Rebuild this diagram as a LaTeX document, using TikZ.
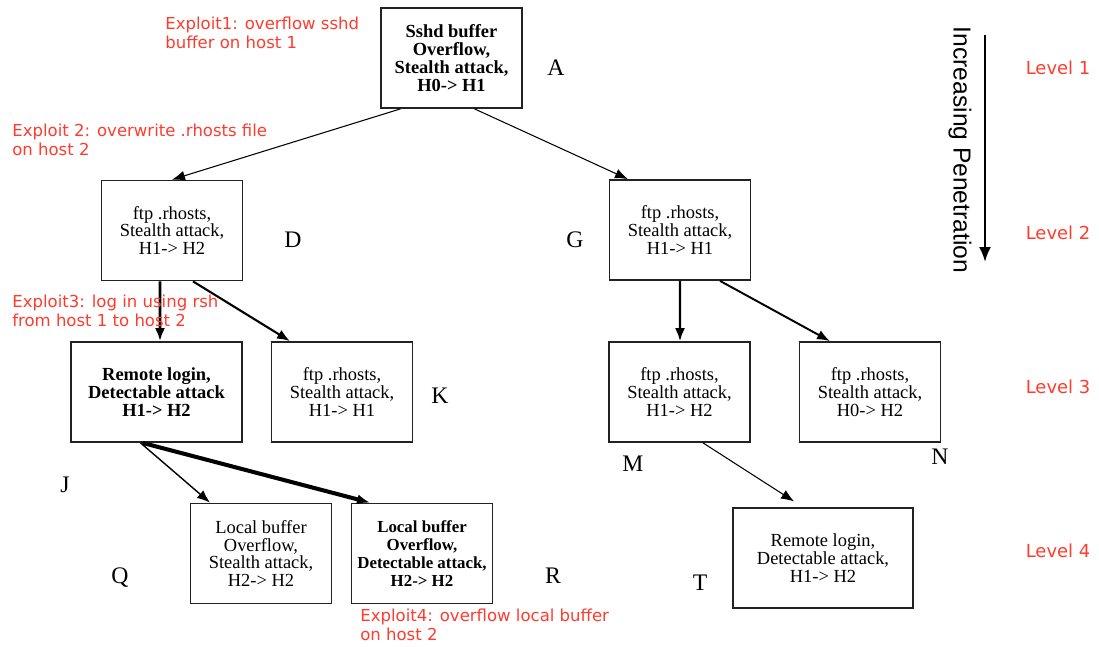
\documentclass[tikz,border=0pt]{standalone}
\usepackage{fontspec}
\setmainfont{Liberation Serif}
\newfontfamily\redfont{DejaVu Sans}
\newfontfamily\arialfont{Liberation Sans}
\usetikzlibrary{arrows.meta,positioning,calc}
\definecolor{exploitred}{HTML}{FF3B2E}
\definecolor{boxline}{HTML}{222222}

\begin{document}
\begin{tikzpicture}[
    x=0.02cm, y=-0.02cm,
    state/.style={
        draw=boxline,
        line width=1pt,
        align=center,
        minimum width=2.82cm,
        minimum height=2cm,
        inner sep=2pt,
        font=\fontsize{10.5}{10.2}\selectfont
    },
    tag/.style={font=\fontsize{13.5}{13.5}\selectfont},
    exploit/.style={
        text=exploitred,
        anchor=north west,
        align=left,
        inner sep=0pt,
        font=\redfont\fontsize{9.4}{10.6}\selectfont
    },
    level/.style={text=exploitred, font=\redfont\fontsize{10.2}{10}\selectfont},
    edge/.style={-{Latex[length=2.6mm,width=2mm]}, draw=black, line width=0.6pt}
]
    \useasboundingbox (0,0) rectangle (1099,646);

    % attack states
    \node[state] (A) at (451.5,58) {\bfseries Sshd buffer\\\bfseries Overflow,\\
        \bfseries Stealth attack,\\\bfseries H0-> H1};
    \node[state] (D) at (172,230.5) {ftp .rhosts,\\Stealth attack,\\H1-> H2};
    \node[state] (G) at (680,230) {ftp .rhosts,\\Stealth attack,\\H1-> H1};
    \node[state, minimum width=3.42cm] (J) at (156.5,392)
        {\bfseries Remote login,\\\bfseries Detectable attack\\\bfseries H1-> H2};
    \node[state] (K) at (342,392) {ftp .rhosts,\\Stealth attack,\\H1-> H1};
    \node[state] (M) at (679.5,392) {ftp .rhosts,\\Stealth attack,\\H1-> H2};
    \node[state] (N) at (870,392) {ftp .rhosts,\\Stealth attack,\\H0-> H2};
    \node[state] (Q) at (261,553.5) {Local buffer\\Overflow,\\Stealth attack,\\H2-> H2};
    \node[state, inner sep=1pt, font=\fontsize{9.6}{10.2}\selectfont] (R) at (422,553.5)
        {\bfseries Local buffer\\\bfseries Overflow,\\
        \bfseries Detectable attack,\\\bfseries H2-> H2};
    \node[state, minimum width=3.6cm] (T) at (823,558)
        {Remote login,\\Detectable attack,\\H1-> H2};

    % state letters
    \node[tag] (tagA) at (556,68) {A};
    \node[tag] (tagD) at (293,240) {D};
    \node[tag] (tagG) at (575,240) {G};
    \node[tag] (tagK) at (440,396) {K};
    \node[tag] (tagJ) at (65,485) {J};
    \node[tag] (tagM) at (633,464) {M};
    \node[tag] (tagN) at (940,457) {N};
    \node[tag] (tagQ) at (120,578) {Q};
    \node[tag] (tagR) at (553,576) {R};
    \node[tag] (tagT) at (700,583) {T};

    % transitions
    \draw[edge] ($(A.south)+(-51,0)$) -- (D.north);
    \draw[edge] ($(A.south)+(23,0)$) -- ($(G.north)+(-52,0)$);
    \draw[edge, line width=1.7pt] ($(D.south)+(-12,0)$) -- ($(J.north)+(3.5,0)$);
    \draw[edge, line width=1.2pt] ($(D.south)+(21,0)$) -- ($(K.north)+(-52,0)$);
    \draw[edge, line width=1.2pt] (G.south) -- ($(M.north)+(0.5,0)$);
    \draw[edge, line width=1.1pt] ($(G.south)+(40,0)$) -- ($(N.north)+(-40,0)$);
    \draw[edge, line width=0.8pt] ($(J.south)+(-16,0)$) -- ($(Q.north)+(-51,0)$);
    \draw[edge, line width=2.3pt] ($(J.south)+(-14,0)$) -- ($(R.north)+(-52,0)$);
    \draw[edge, shorten >=6pt] ($(M.south)+(23.5,0)$) -- ($(T.north)+(-20,0)$);

    % exploit notes
    \node[exploit] (e1) at (165,17) {Exploit1: overflow sshd\\buffer on host 1};
    \node[exploit] (e2) at (12,124) {Exploit 2: overwrite .rhosts file\\on host 2};
    \node[exploit] (e3) at (12,295) {Exploit3: log in using rsh\\from host 1 to host 2};
    \node[exploit] (e4) at (360,609) {Exploit4: overflow local buffer\\on host 2};

    % penetration scale
    \coordinate (pentop) at (985,35);
    \coordinate (penbot) at (985,262);
    \draw[-{Latex[length=3mm,width=2.4mm]}, line width=1.3pt] (pentop) -- (penbot);
    \node[rotate=-90, font=\arialfont\fontsize{14}{14}\selectfont] (pen) at (960,150)
        {Increasing Penetration};
    \node[level] (lev1) at (1058,68) {Level 1};
    \node[level] (lev2) at (1058,233) {Level 2};
    \node[level] (lev3) at (1058,387) {Level 3};
    \node[level] (lev4) at (1058,551) {Level 4};
\end{tikzpicture}
\end{document}
